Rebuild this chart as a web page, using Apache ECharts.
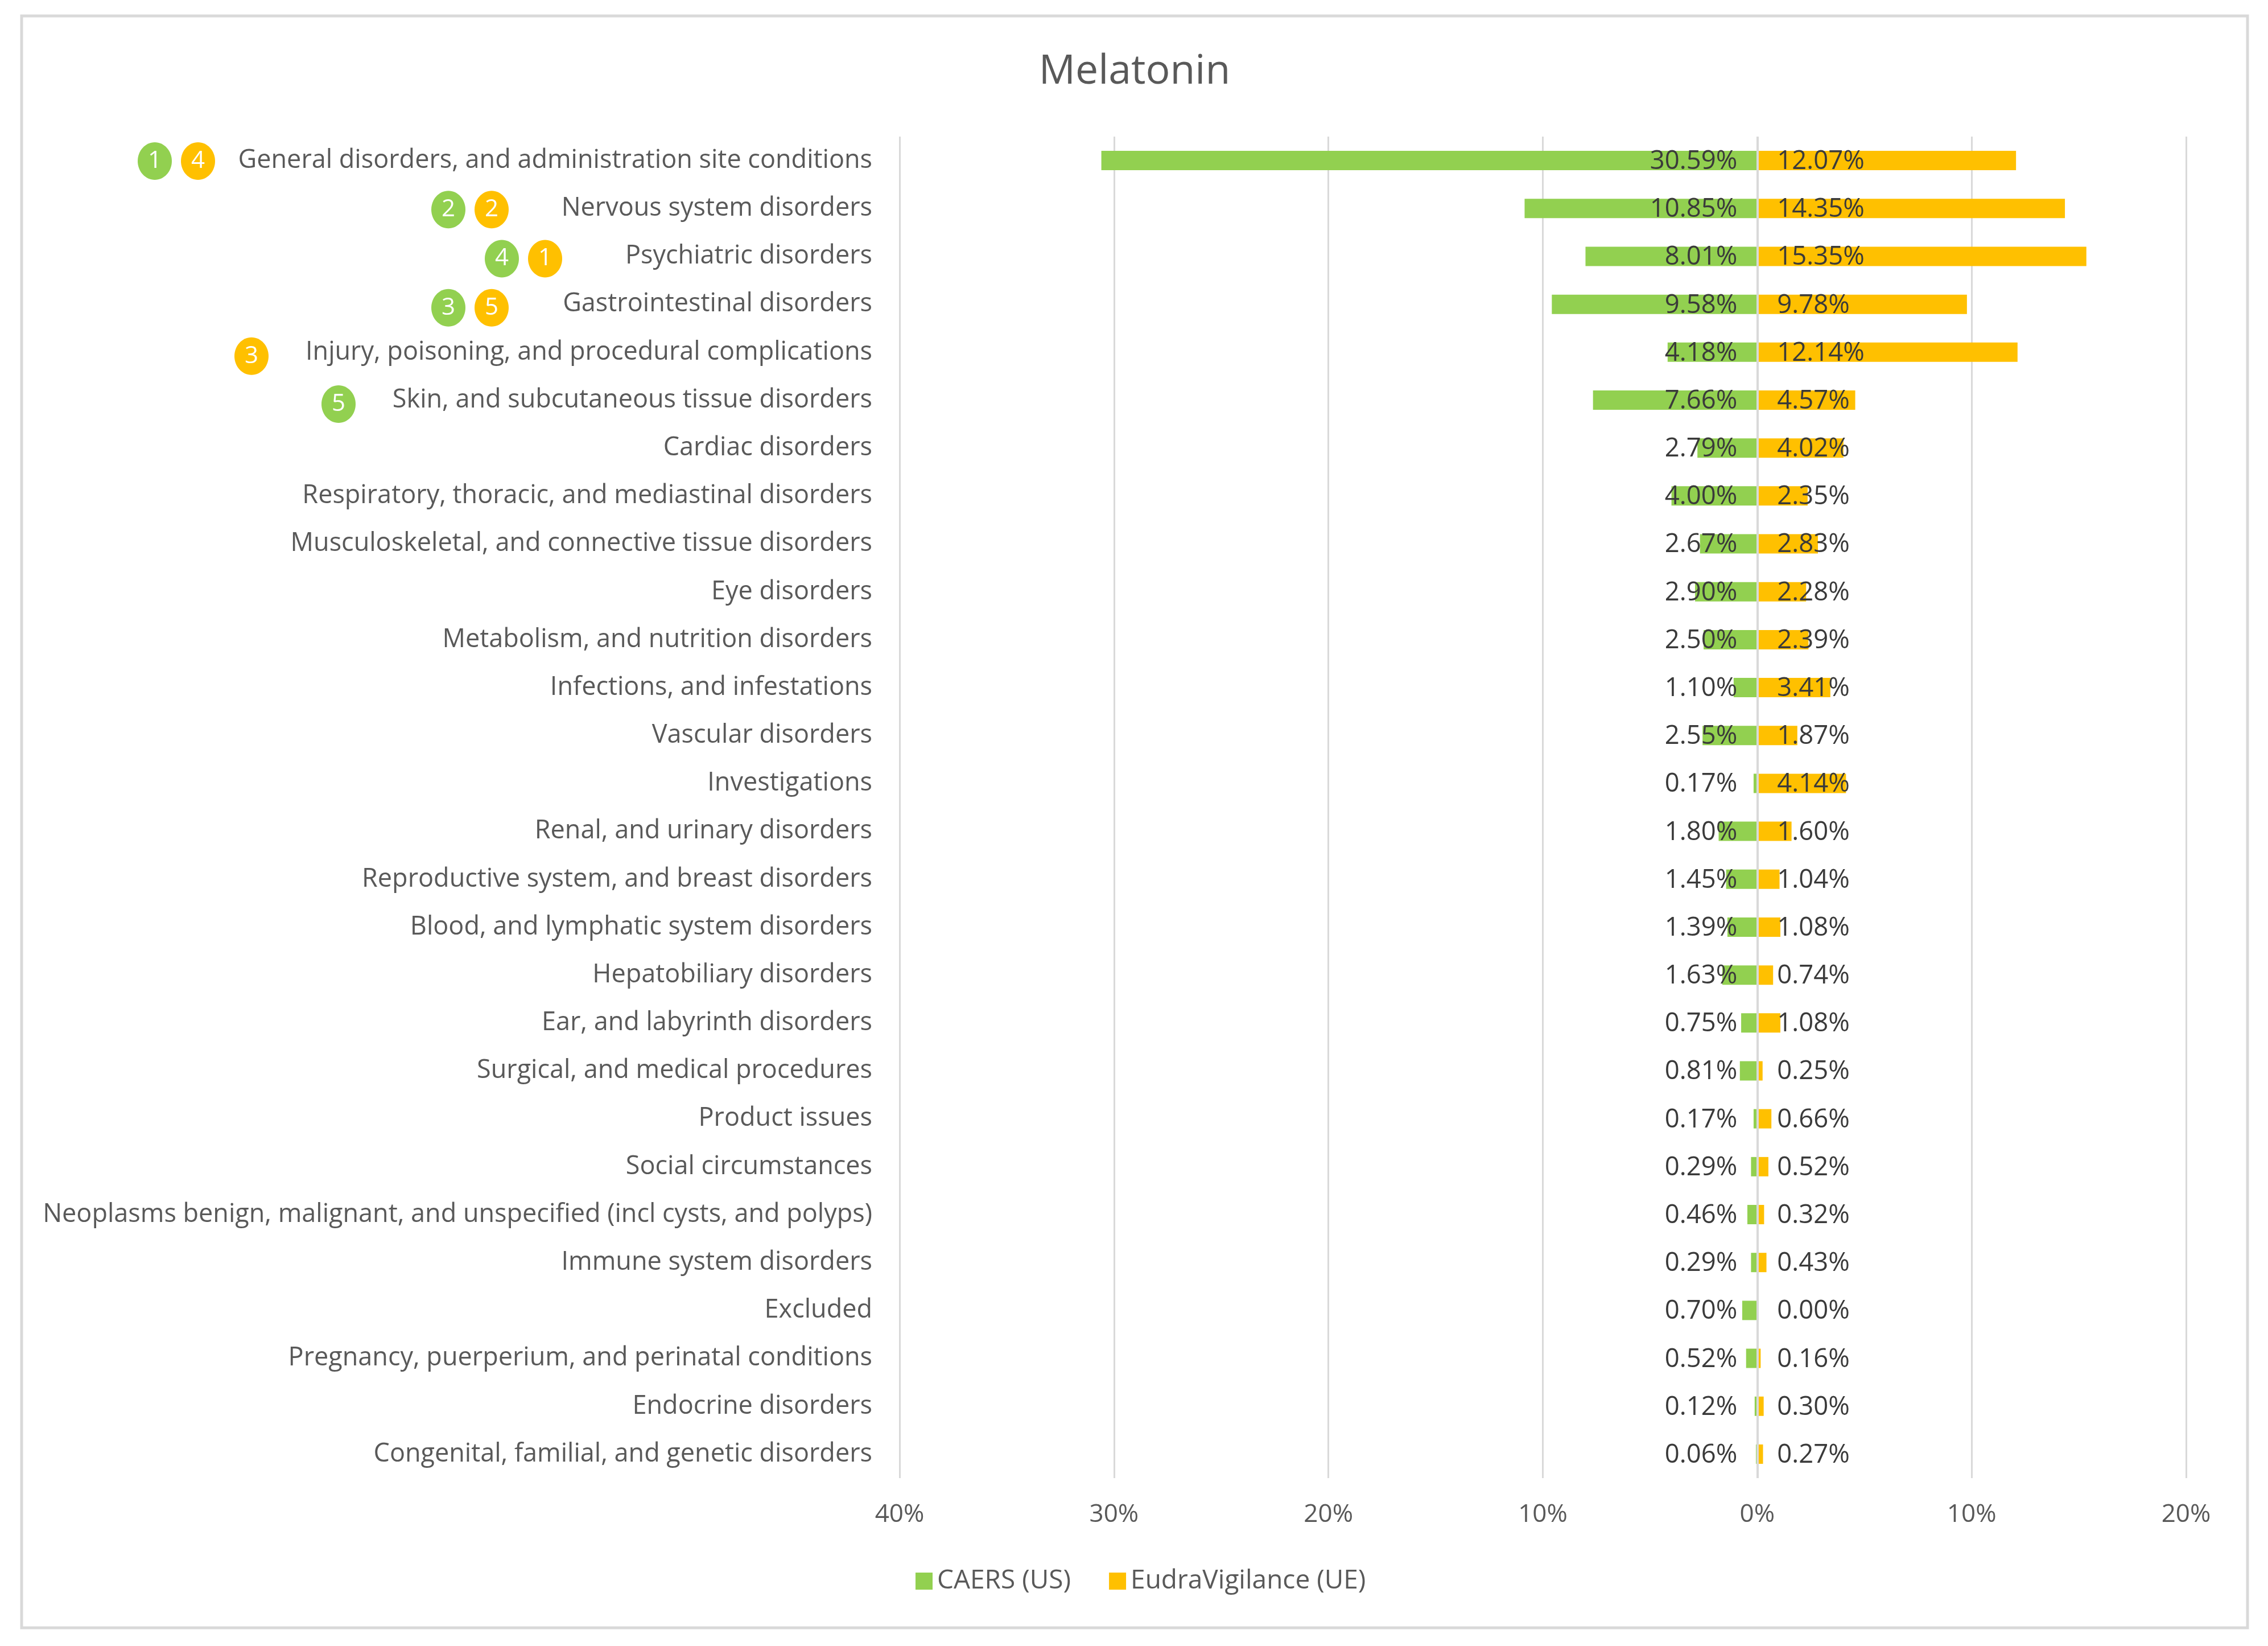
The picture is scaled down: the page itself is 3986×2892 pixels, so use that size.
<!DOCTYPE html>
<html>
<head>
<meta charset="utf-8">
<style>html,body{margin:0;padding:0;background:#fff}#c{width:3986px;height:2892px}</style>
<script src="https://cdn.jsdelivr.net/npm/echarts@6/dist/echarts.min.js"></script>
</head>
<body>
<div id="c"></div>
<script>
const categories = ["General disorders, and administration site conditions","Nervous system disorders","Psychiatric disorders","Gastrointestinal disorders","Injury, poisoning, and procedural complications","Skin, and subcutaneous tissue disorders","Cardiac disorders","Respiratory, thoracic, and mediastinal disorders","Musculoskeletal, and connective tissue disorders","Eye disorders","Metabolism, and nutrition disorders","Infections, and infestations","Vascular disorders","Investigations","Renal, and urinary disorders","Reproductive system, and breast disorders","Blood, and lymphatic system disorders","Hepatobiliary disorders","Ear, and labyrinth disorders","Surgical, and medical procedures","Product issues","Social circumstances","Neoplasms benign, malignant, and unspecified (incl cysts, and polyps)","Immune system disorders","Excluded","Pregnancy, puerperium, and perinatal conditions","Endocrine disorders","Congenital, familial, and genetic disorders"];
const caers = [30.59,10.85,8.01,9.58,4.18,7.66,2.79,4.00,2.67,2.90,2.50,1.10,2.55,0.17,1.80,1.45,1.39,1.63,0.75,0.81,0.17,0.29,0.46,0.29,0.70,0.52,0.12,0.06];
const eudra = [12.07,14.35,15.35,9.78,12.14,4.57,4.02,2.35,2.83,2.28,2.39,3.41,1.87,4.14,1.60,1.04,1.08,0.74,1.08,0.25,0.66,0.52,0.32,0.43,0.00,0.16,0.30,0.27];
const caersRanks = [1,2,4,3,null,5];
const eudraRanks = [4,2,1,5,3,null];
const seriesNames = ["CAERS (US)","EudraVigilance (UE)"];
const title = "Melatonin";

const GREEN='#92D050', ORANGE='#FFC000', FONT='"Open Sans", sans-serif';
const chart = echarts.init(document.getElementById('c'),null,{renderer:'canvas'});
const labelBase = {show:true,color:'#3A3A3A',fontFamily:FONT,fontSize:45.5,distance:35,offset:[0,2],formatter:p=>Math.abs(p.value).toFixed(2)+'%'};
const frame = {type:'rect',silent:true,z:-1,shape:{x:38,y:28,width:3912,height:2832},style:{fill:'none',stroke:'#D9D9D9',lineWidth:5}};
chart.setOption({
  animation:false,
  backgroundColor:'#fff',
  title:{text:title,left:1989,top:86,textAlign:'center',textStyle:{color:'#595959',fontFamily:FONT,fontSize:71.5,fontWeight:'normal'}},
  legend:{left:1604,top:2750,itemWidth:30,itemHeight:30,itemGap:67,data:seriesNames,icon:'rect',textStyle:{color:'#595959',fontFamily:FONT,fontSize:46,padding:[0,0,0,3]}},
  grid:{left:1581,top:240,width:2261,height:2357,containLabel:false},
  xAxis:{type:'value',min:-40,max:20,interval:10,
    axisLine:{show:false},axisTick:{show:false},
    splitLine:{show:true,lineStyle:{color:'#D9D9D9',width:3}},
    axisLabel:{color:'#595959',fontFamily:FONT,fontSize:44,margin:42,formatter:v=>Math.abs(v)+'%'}},
  yAxis:{type:'category',inverse:true,data:categories,
    axisLine:{show:false},axisTick:{show:false},
    axisLabel:{interval:0,color:'#595959',fontFamily:FONT,fontSize:45,margin:48,align:'right',offset:0,padding:[0,0,3,0]}},
  series:[
    {name:seriesNames[0],type:'bar',barWidth:34,barGap:'-100%',data:caers.map(v=>-v),
     itemStyle:{color:GREEN},label:Object.assign({},labelBase,{position:'insideRight'}),
     markLine:{silent:true,symbol:'none',label:{show:false},lineStyle:{color:'#D9D9D9',width:4,type:'solid'},data:[{xAxis:0}]}},
    {name:seriesNames[1],type:'bar',barWidth:34,barGap:'-100%',data:eudra,
     itemStyle:{color:ORANGE},label:Object.assign({},labelBase,{position:'insideLeft'})}
  ],
  graphic:[frame]
});
// Rank badges beside the category labels; only the vertical centre comes from the axis.
const badgeCols = {caers:[272,788,882,788,null,595],eudra:[348,864,958,864,442,null]};
const badgeDy = [1,2,4,6,7,7];
const badges=[];
function addBadge(rank,cx,i,color){
  if(rank==null) return;
  const cy=chart.convertToPixel({yAxisIndex:0},categories[i])+badgeDy[i];
  badges.push({type:'ellipse',silent:true,z:10,shape:{cx:cx,cy:cy,rx:30,ry:33},style:{fill:color}});
  badges.push({type:'text',silent:true,z:11,style:{x:cx,y:cy,text:String(rank),fill:'#fff',fontFamily:FONT,fontSize:42,textAlign:'center',textVerticalAlign:'middle'}});
}
categories.slice(0,6).forEach((_,i)=>{
  addBadge(caersRanks[i],badgeCols.caers[i],i,GREEN);
  addBadge(eudraRanks[i],badgeCols.eudra[i],i,ORANGE);
});
chart.setOption({graphic:[frame].concat(badges)});
</script>
</body>
</html>
